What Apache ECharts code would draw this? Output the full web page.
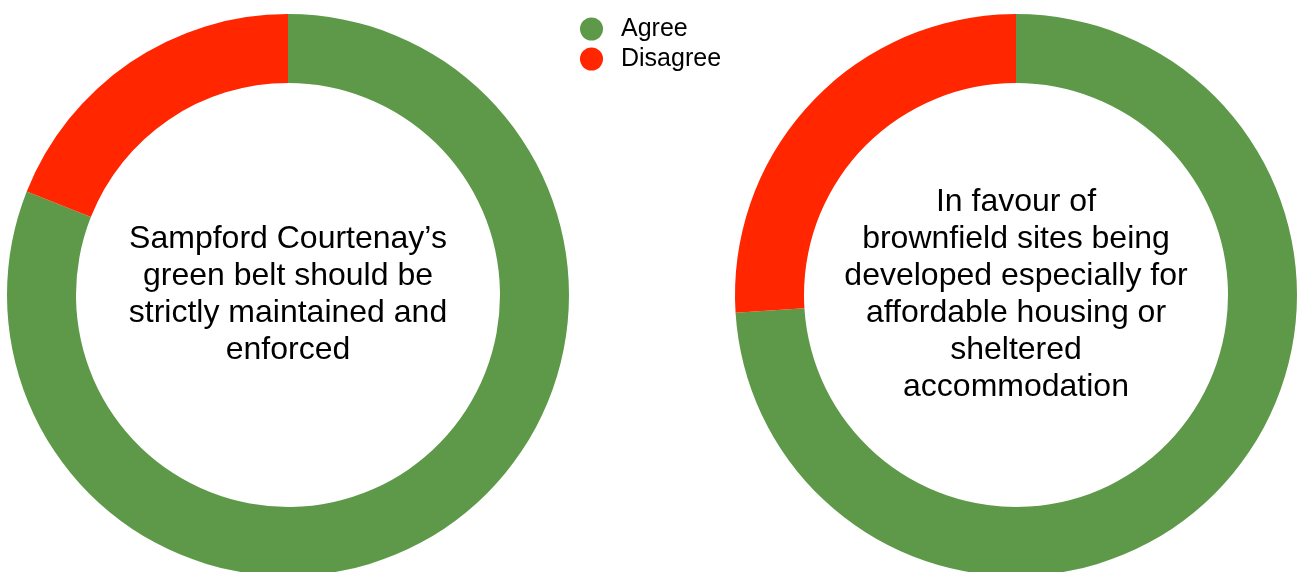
<!DOCTYPE html>
<html>
<head>
<meta charset="utf-8">
<script src="https://cdn.jsdelivr.net/npm/echarts@6/dist/echarts.min.js"></script>
<style>
  html, body { margin: 0; padding: 0; background: #ffffff; }
  #chart { width: 1298px; height: 572px; }
</style>
</head>
<body>
<div id="chart"></div>
<script>
// Survey statements shown in the middle of each ring
const statements = [
  "Sampford Courtenay\u2019s\ngreen belt should be\nstrictly maintained and\nenforced",
  "In favour of\nbrownfield sites being\ndeveloped especially for\naffordable housing or\nsheltered\naccommodation"
];
// Response categories
const responses = ["Agree", "Disagree"];
// Share of respondents (%) per statement
const agreeShare = [81, 74];
const disagreeShare = [19, 26];

const colors = ["#5e994a", "#ff2600"];
const fontFamily = '"Helvetica Neue", Helvetica, Arial, "Liberation Sans", sans-serif';

const centers = [[288, 295], [1016, 295]];

const chart = echarts.init(document.getElementById("chart"), null, { renderer: "canvas" });

const series = statements.map((s, i) => ({
  type: "pie",
  name: s,
  center: centers[i],
  radius: [212, 281],
  startAngle: 90,
  clockwise: true,
  avoidLabelOverlap: false,
  label: { show: false },
  labelLine: { show: false },
  emphasis: { disabled: true },
  itemStyle: { borderWidth: 0 },
  data: [
    { name: responses[0], value: agreeShare[i] },
    { name: responses[1], value: disagreeShare[i] }
  ]
}));

chart.setOption({
  animation: false,
  color: colors,
  legend: {
    orient: "vertical",
    left: 575,
    top: 10,
    icon: "circle",
    itemWidth: 23,
    itemHeight: 23,
    itemGap: 2,
    data: responses,
    textStyle: {
      fontFamily: fontFamily,
      fontSize: 25,
      lineHeight: 28,
      color: "#000000",
      padding: [0, 0, 0, 13]
    }
  },
  graphic: statements.map((s, i) => ({
    type: "text",
    x: centers[i][0],
    y: centers[i][1],
    silent: true,
    style: {
      text: s,
      align: "center",
      verticalAlign: "middle",
      fontFamily: fontFamily,
      fontSize: 32,
      lineHeight: 37,
      fill: "#000000"
    }
  })),
  series: series
});
</script>
</body>
</html>
